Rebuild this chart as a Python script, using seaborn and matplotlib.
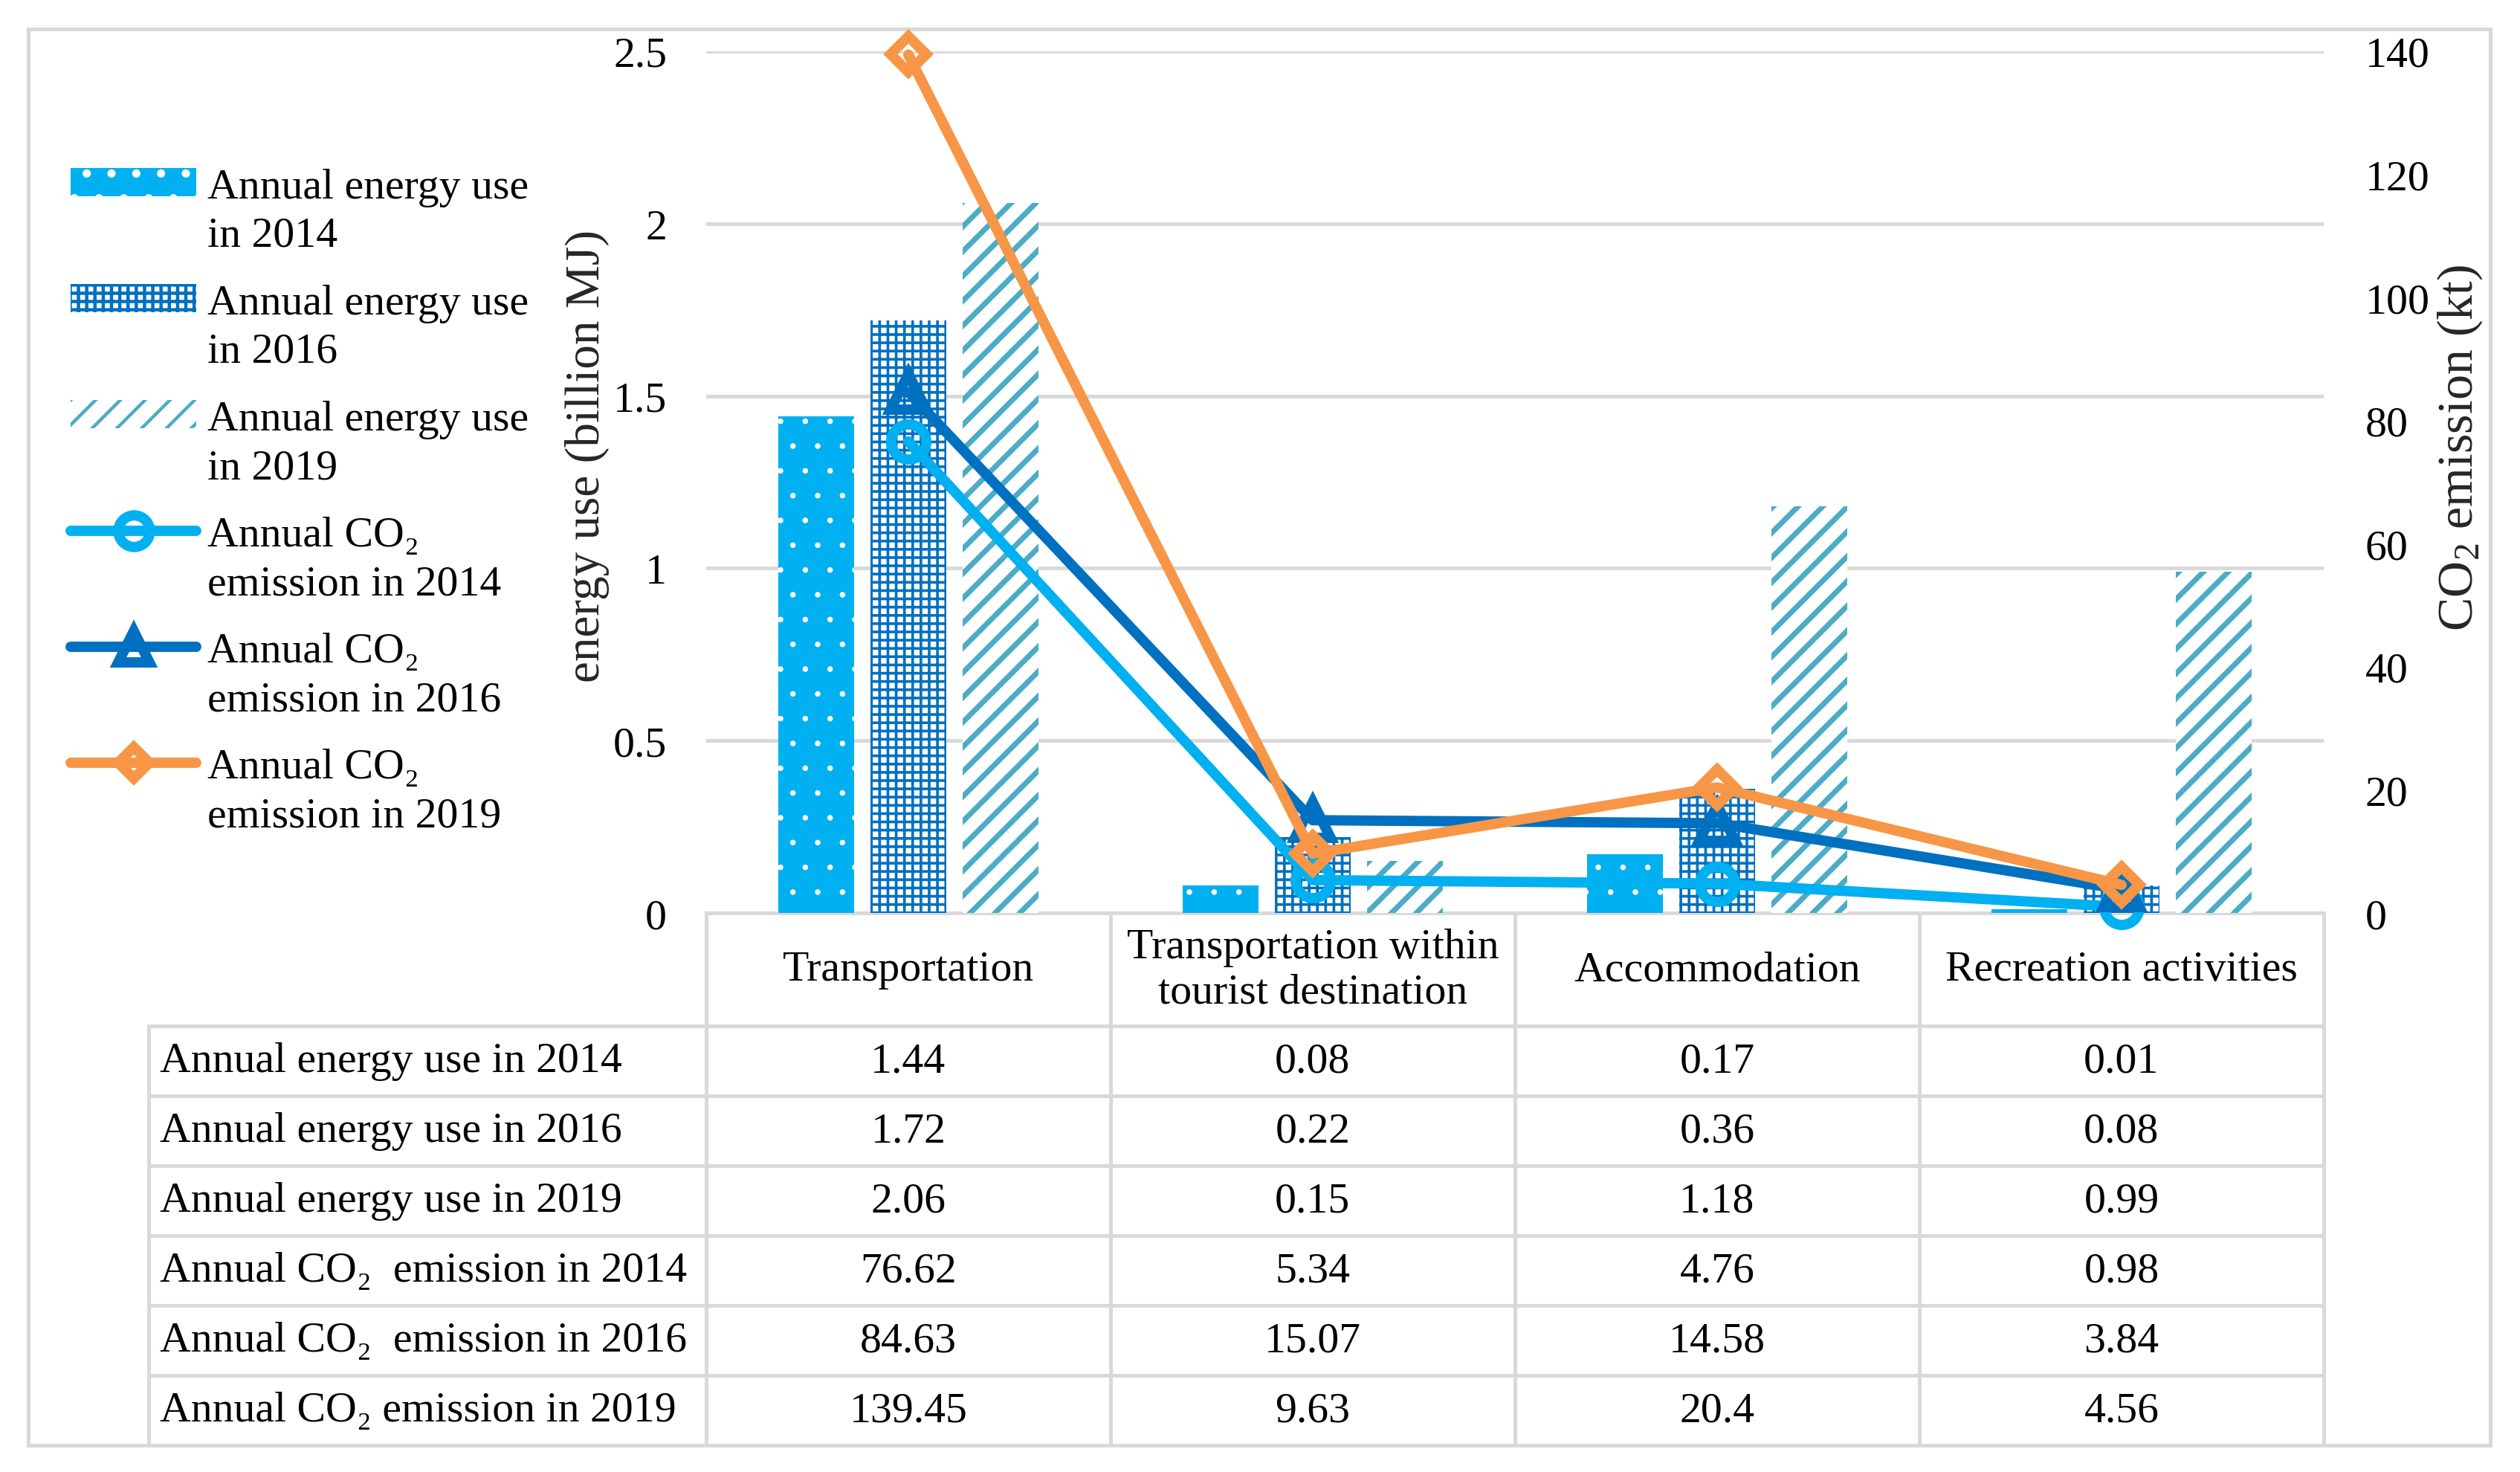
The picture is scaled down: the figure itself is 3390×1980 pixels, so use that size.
import matplotlib
matplotlib.use('Agg')
import matplotlib.pyplot as plt
from matplotlib.patches import Rectangle
from matplotlib.ticker import FuncFormatter
import numpy as np
import pandas as pd
import seaborn as sns

# Data
categories = ['Transportation', 'Transportation within\ntourist destination',
              'Accommodation', 'Recreation activities']
years = ['2014', '2016', '2019']
energy_2014 = [1.44, 0.08, 0.17, 0.01]
energy_2016 = [1.72, 0.22, 0.36, 0.08]
energy_2019 = [2.06, 0.15, 1.18, 0.99]
co2_2014 = [76.62, 5.34, 4.76, 0.98]
co2_2016 = [84.63, 15.07, 14.58, 3.84]
co2_2019 = [139.45, 9.63, 20.4, 4.56]

row_labels = ['Annual energy use in 2014', 'Annual energy use in 2016',
              'Annual energy use in 2019', 'Annual CO\u2082  emission in 2014',
              'Annual CO\u2082  emission in 2016', 'Annual CO\u2082 emission in 2019']
legend_labels = ['Annual energy use\nin 2014', 'Annual energy use\nin 2016',
                 'Annual energy use\nin 2019', 'Annual CO\u2082\nemission in 2014',
                 'Annual CO\u2082\nemission in 2016', 'Annual CO\u2082\nemission in 2019']

sns.set_theme(style='white')
plt.rcParams['font.family'] = ['Liberation Serif', 'DejaVu Serif']
plt.rcParams['mathtext.fontset'] = 'custom'
plt.rcParams['mathtext.rm'] = 'Liberation Serif'
plt.rcParams['mathtext.it'] = 'Liberation Serif:italic'
plt.rcParams['hatch.linewidth'] = 1.6
plt.rcParams['text.color'] = 'black'
plt.rcParams['ytick.color'] = 'black'

FS = 20.8
GRID = '#d9d9d9'

fig = plt.figure(figsize=(16.95, 9.905), dpi=200)
fig.add_artist(Rectangle((0.0112, 0.0182), 0.977, 0.9616, transform=fig.transFigure,
                         fill=False, edgecolor=GRID, linewidth=1.8, zorder=0))
ax = fig.add_axes([0.2802, 0.3796, 0.6419, 0.5851])

# bars: annual energy use
df = pd.DataFrame({'category': categories * 3,
                   'year': np.repeat(years, len(categories)),
                   'energy': energy_2014 + energy_2016 + energy_2019})
sns.barplot(data=df, x='category', y='energy', hue='year', order=categories,
            hue_order=years, palette=['#00B0F0', '#0070C0', '#4BACC6'],
            width=0.684, gap=0.178, saturation=1, errorbar=None, legend=False, ax=ax)

bar_styles = [('#00B0F0', '.', 'white', 0.3),
              ('white', '+++', '#0070C0', 1.3),
              ('white', '//', '#4BACC6', 2.6)]
for cont, (face, hatch, hcol, hlw) in zip(ax.containers, bar_styles):
    for p in cont.patches:
        p.set_facecolor(face)
        p.set_edgecolor(hcol)
        p.set_linewidth(0)
        p.set_hatch(hatch)
        if hasattr(p, 'set_hatch_linewidth'):
            p.set_hatch_linewidth(hlw)
        elif hasattr(p, '_hatch_linewidth'):
            p._hatch_linewidth = hlw

ax.set_xlim(-0.5, 3.5)
ax.set_ylim(0, 2.5)
ax.set_yticks([0, 0.5, 1, 1.5, 2, 2.5])
ax.yaxis.set_major_formatter(FuncFormatter(lambda v, p: f'{v:g}'))
ax.tick_params(axis='y', length=0, pad=19, labelsize=FS)
ax.tick_params(axis='x', length=0, labelbottom=False)
ax.set_xlabel('')
ax.set_ylabel('energy use (billion MJ)', fontsize=23.5)
ax.yaxis.set_label_coords(-0.0597, 0.531)
ax.grid(axis='y', color=GRID, linewidth=1.8)
ax.grid(axis='x', visible=False)
ax.set_axisbelow(True)
for s in ax.spines.values():
    s.set_visible(False)

# lines: annual CO2 emission
ax2 = ax.twinx()
xpos = np.arange(len(categories))
line_styles = [(co2_2014, '#00B0F0', 'o', 17),
               (co2_2016, '#0070C0', '^', 17),
               (co2_2019, '#F79646', 'D', 12)]
for vals, color, marker, ms in line_styles:
    sns.lineplot(x=xpos, y=vals, ax=ax2, color=color, marker=marker, markersize=ms,
                 markerfacecolor='none', markeredgecolor=color, markeredgewidth=5.0,
                 linewidth=5.0, sort=False, legend=False, clip_on=False)
ax2.set_ylim(0, 140)
ax2.set_yticks(range(0, 141, 20))
ax2.tick_params(axis='y', length=0, pad=20, labelsize=FS)
ax2.set_ylabel(r'CO$_2$ emission (kt)', fontsize=24.5)
ax2.yaxis.set_label_coords(1.069, 0.541)
for s in ax2.spines.values():
    s.set_visible(False)

# data table under the plot
cell_text = []
for lab, series in zip(row_labels, [energy_2014, energy_2016, energy_2019,
                                    co2_2014, co2_2016, co2_2019]):
    cell_text.append([lab] + [f'{v:g}' for v in series])
widths = np.array([750, 544, 544, 544, 544]) / 2926
tab = ax.table(cellText=cell_text, colLabels=[''] + categories, colWidths=list(widths),
               cellLoc='center', bbox=[-0.3447, -0.6178, 1.3447, 0.6178])
tab.auto_set_font_size(False)
tab.set_fontsize(FS)
for (r, c), cell in tab.get_celld().items():
    cell.set_edgecolor(GRID)
    cell.set_linewidth(1.8)
    cell.set_height(152 if r == 0 else 94)
    if r == 0 and c == 0:
        cell.visible_edges = 'open'
    if c == 0 and r > 0:
        cell._loc = 'left'
        cell.PAD = 0.02
        cell.get_text().set_ha('left')

# legend
handles = list(ax.containers) + list(ax2.get_lines())
leg = fig.legend(handles, legend_labels, loc='upper left', bbox_to_anchor=(0.028, 0.8854),
                 frameon=False, fontsize=FS, borderpad=0, borderaxespad=0,
                 handlelength=2.93, handleheight=0.63, handletextpad=0.25,
                 labelspacing=0.68, markerscale=0.9)
for hp in leg._legend_handle_box.get_children()[0].get_children():
    hp.align = 'top'
for t in leg.get_texts():
    t.set_linespacing(1.32)

fig.savefig('out.png', dpi=200)
